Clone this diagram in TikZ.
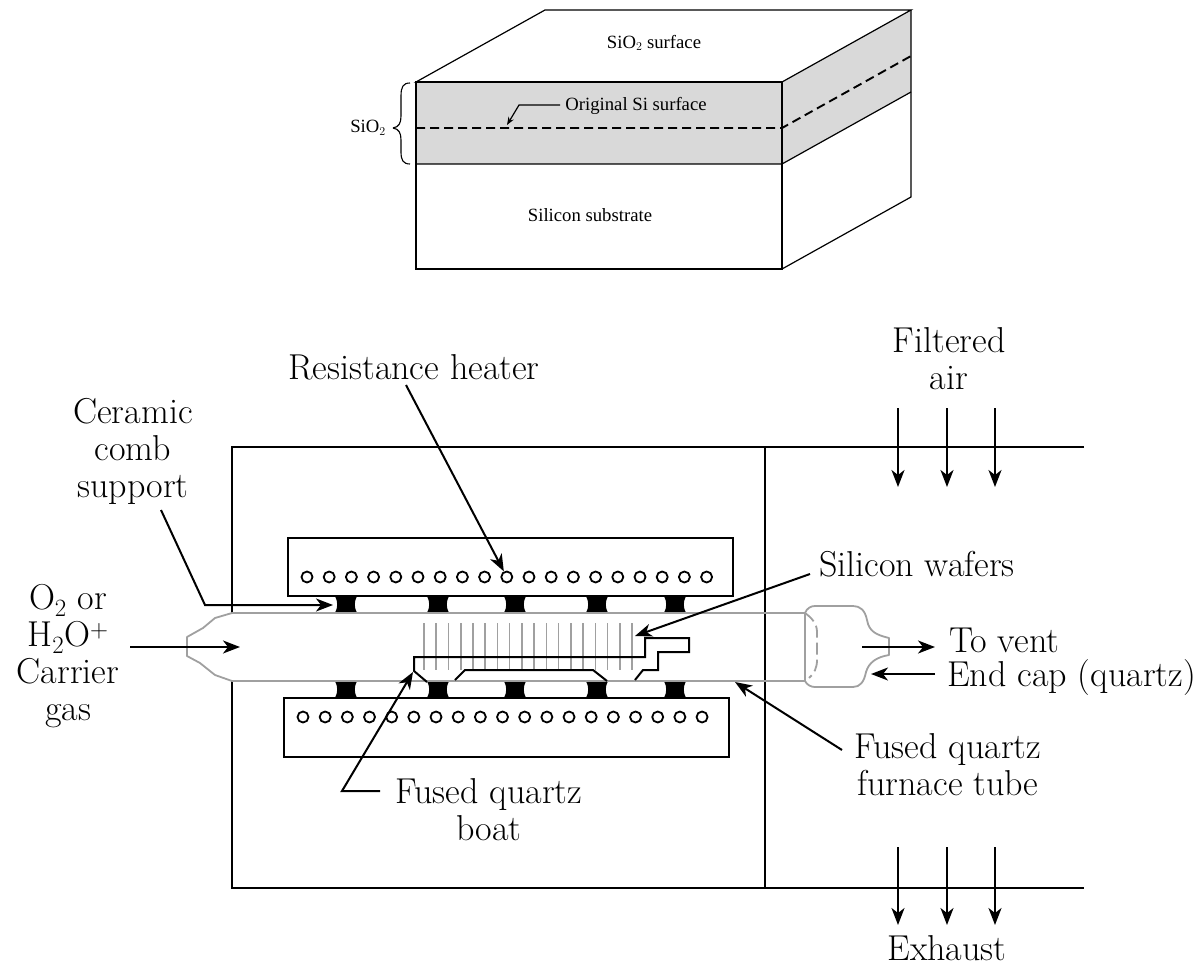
\documentclass[tikz,border=0pt]{standalone}
\usepackage{fontspec}
\usepackage{xcolor}
\usetikzlibrary{arrows.meta, positioning}
\newfontfamily\blockfont{Liberation Serif}
\definecolor{oxidegray}{RGB}{217, 217, 217}
\definecolor{quartzgray}{RGB}{160, 160, 160}
\tikzset{
    biglabel/.style={inner sep=0pt, align=center, font=\fontsize{36}{37}\selectfont},
    smalllabel/.style={inner sep=0pt, font=\blockfont\fontsize{18.7}{19}\selectfont},
    furnaceline/.style={line width=2pt, black},
    blockline/.style={line width=1.2pt, black},
    leader/.style={line width=2pt, black, ->, >={Stealth[length=17pt, width=13pt, inset=5pt]}},
    quartz/.style={line width=1.8pt, quartzgray, line join=round},
    boatline/.style={line width=2pt, black, line join=miter},
    coil/.style={circle, draw=black, line width=1.8pt, fill=white, minimum size=11pt, inner sep=0pt},
}
\begin{document}
\begin{tikzpicture}[x=1pt, y=-1pt]
    \useasboundingbox (0,0) rectangle (1196,966);

    % Oxide block
    \fill[oxidegray] (416,82) rectangle (782,164);
    \fill[oxidegray] (782,82) -- (911,10) -- (911,92) -- (782,164) -- cycle;
    \draw[blockline] (416,82) -- (545,10) -- (911,10) -- (782,82) -- cycle;
    \draw[blockline] (416,82) rectangle (782,269);
    \draw[blockline] (416,164) -- (782,164) -- (911,92);
    \draw[blockline] (911,10) -- (911,197) -- (782,269);
    \draw[line width=1.9pt, dashed, dash pattern=on 9pt off 5pt] (416,128) -- (782,128) -- (911,56);
    \draw[line width=1.1pt] (393,128) .. controls (399,127) and (401,123) .. (401,116) -- (401,96) .. controls (401,87) and (403,83) .. (410,83);
    \draw[line width=1.1pt] (393,128) .. controls (399,129) and (401,133) .. (401,140) -- (401,152) .. controls (401,160) and (403,164) .. (410,164);

    % Block labels
    \node[smalllabel] (surface) at (654,43) {SiO$_2$ surface};
    \node[smalllabel] (oxide) at (368,128) {SiO$_2$};
    \node[smalllabel] (original) at (636,106) {Original Si surface};
    \node[smalllabel] (substrate) at (590,215) {Silicon substrate};
    \coordinate (originalstart) at (560,105);
    \coordinate (originalend) at (507,125);
    \draw[line width=1.2pt, ->, >={Stealth[length=8pt, width=6pt]}] (originalstart) -- (519,105) -- (originalend);

    % Furnace walls
    \draw[furnaceline] (1084,447) -- (232,447) -- (232,613);
    \draw[furnaceline] (232,681) -- (232,888) -- (1084,888);
    \draw[furnaceline] (765,447) -- (765,888);

    % Heaters
    \draw[furnaceline] (288,538) rectangle (733,596);
    \draw[furnaceline] (284,698) rectangle (729,757);
    \foreach \i in {0,...,18} {
        \node[coil] (upper\i) at (307+22.2*\i,577) {};
        \node[coil] (lower\i) at (303+22.17*\i,717) {};
    }

    % Comb support
    \foreach \px in {346,438,515,597,675} {
        \fill[shift={(\px,596)}] (-11,0) .. controls (-8,6) and (-8,11) .. (-11,17) -- (11,17) .. controls (8,11) and (8,6) .. (11,0) -- cycle;
        \fill[shift={(\px,681)}] (-11,0) .. controls (-8,6) and (-8,11) .. (-11,17) -- (11,17) .. controls (8,11) and (8,6) .. (11,0) -- cycle;
    }

    % Furnace tube and end cap
    \draw[quartz] (805,613) -- (232,613) -- (215,618) -- (203,628) -- (187,637) -- (187,656) -- (200,663) -- (215,675) -- (232,681) -- (805,681);
    \draw[quartz] (805,681) -- (805,613) .. controls (807,608) and (811,606) .. (815,606) -- (853,606)
        .. controls (860,606) and (865,610) .. (867,620) .. controls (869,632) and (877,635) .. (889,638) -- (889,655)
        .. controls (877,657) and (869,662) .. (866,672) .. controls (864,682) and (860,687) .. (853,687) -- (815,687)
        .. controls (811,687) and (807,685) .. (805,681);
    \draw[quartz, dash pattern=on 12pt off 5pt] (805,613) .. controls (812,618) and (817,624) .. (817,632) -- (817,660) .. controls (817,668) and (814,674) .. (809,678);

    % Wafers
    \foreach \i in {0,...,17} {
        \draw[line width=1.6pt, quartzgray] (424+12.24*\i,623) -- (424+12.24*\i,670);
    }

    % Boat
    \draw[boatline] (427,682) -- (414,671) -- (414,657) -- (645,657) -- (645,638) -- (689,638) -- (689,652) -- (658,652) -- (658,670) -- (643,670) -- (635,680);
    \draw[boatline] (455,680) -- (465,670) -- (593,670) -- (607,681);

    % Labels
    \node[biglabel] (filtered) at (949,359) {Filtered\\air};
    \node[biglabel] (resistance) at (414,367) {Resistance heater};
    \node[biglabel] (ceramic) at (133,451) {Ceramic\\comb\\support};
    \node[biglabel] (gas) at (68,656) {O$_2$ or\\H$_2$O$^+$\\Carrier\\gas};
    \node[biglabel] (wafers) at (917,564) {Silicon wafers};
    \node[biglabel, anchor=west] (vent) at (949,640) {To vent};
    \node[biglabel, anchor=west] (endcap) at (947,678) {End cap (quartz)};
    \node[biglabel] (tube) at (948,765) {Fused quartz\\furnace tube};
    \node[biglabel] (boat) at (489,810) {Fused quartz\\boat};
    \node[biglabel] (exhaust) at (947,948) {Exhaust};

    % Free ends of the arrows
    \coordinate (heaterstart) at (406,385);
    \coordinate (combstart) at (161,510);
    \coordinate (combend) at (333,605);
    \coordinate (gasstart) at (130,647);
    \coordinate (gasend) at (240,647);
    \coordinate (waferstart) at (810,574);
    \coordinate (waferend) at (635,636);
    \coordinate (ventstart) at (862,647);
    \coordinate (ventend) at (935,647);
    \coordinate (capstart) at (935,674);
    \coordinate (capend) at (871,674);
    \coordinate (tubestart) at (842,750);
    \coordinate (tubeend) at (735,682);
    \coordinate (boatstart) at (380,791);
    \coordinate (boatend) at (413,672);

    % Arrows
    \draw[leader] (heaterstart) -- (upper9);
    \draw[leader] (combstart) -- (205,605) -- (combend);
    \draw[leader] (gasstart) -- (gasend);
    \draw[leader] (waferstart) -- (waferend);
    \draw[leader] (ventstart) -- (ventend);
    \draw[leader] (capstart) -- (capend);
    \draw[leader] (tubestart) -- (tubeend);
    \draw[leader] (boatstart) -- (342,791) -- (boatend);

    % Air flow
    \foreach \ax [count=\n] in {898,947,995} {
        \coordinate (airtop\n) at (\ax,408);
        \coordinate (airend\n) at (\ax,487);
        \coordinate (exhausttop\n) at (\ax,847);
        \coordinate (exhaustend\n) at (\ax,925);
        \draw[leader] (airtop\n) -- (airend\n);
        \draw[leader] (exhausttop\n) -- (exhaustend\n);
    }
\end{tikzpicture}
\end{document}
